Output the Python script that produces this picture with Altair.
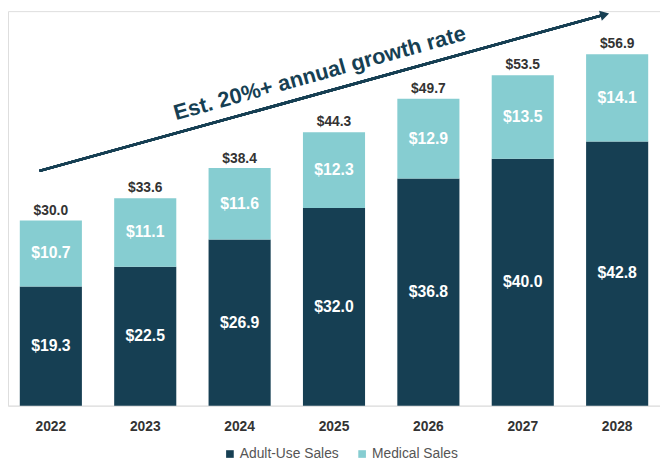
import altair as alt
import pandas as pd

years = ["2022", "2023", "2024", "2025", "2026", "2027", "2028"]
adult = [19.3, 22.5, 26.9, 32.0, 36.8, 40.0, 42.8]
medical = [10.7, 11.1, 11.6, 12.3, 12.9, 13.5, 14.1]
totals = [30.0, 33.6, 38.4, 44.3, 49.7, 53.5, 56.9]
series = ["Adult-Use Sales", "Medical Sales"]
annotation = "Est. 20%+ annual growth rate"

DARK = "#163f53"
LIGHT = "#86cdd1"
FONT = "Liberation Sans"

rows = []
for i, yr in enumerate(years):
    rows.append({"year": yr, "series": series[0], "value": adult[i], "order": 0,
                 "mid": adult[i] / 2, "label": f"${adult[i]:.1f}"})
    rows.append({"year": yr, "series": series[1], "value": medical[i], "order": 1,
                 "mid": adult[i] + medical[i] / 2, "label": f"${medical[i]:.1f}"})
df = pd.DataFrame(rows)
tot = pd.DataFrame({"year": years, "total": totals,
                    "label": [f"${t:.1f}" for t in totals]})

W, H = 661, 400
xscale = alt.Scale(paddingInner=0.342, paddingOuter=0.125)
yscale = alt.Scale(domain=[0, 63.9])
xenc = alt.X("year:N", sort=years, scale=xscale, title=None,
             axis=alt.Axis(labelAngle=0, labelFont=FONT, labelFontSize=14,
                           labelFontWeight="bold", labelColor="#333333",
                           labelPadding=14, ticks=False, domainColor="#e3e3e3",
                           domainWidth=1.5))

bars = alt.Chart(df).mark_bar().encode(
    x=xenc,
    y=alt.Y("value:Q", stack="zero", scale=yscale, axis=None),
    color=alt.Color("series:N", sort=series,
                    scale=alt.Scale(domain=series, range=[DARK, LIGHT]),
                    legend=alt.Legend(title=None, orient="none", legendX=218, legendY=442,
                                      direction="horizontal", symbolType="square",
                                      symbolSize=60, symbolStrokeWidth=0,
                                      labelFont=FONT, labelFontSize=14,
                                      labelColor="#555555", columnPadding=16,
                                      symbolOffset=0, labelOffset=3)),
    order=alt.Order("order:Q"),
)

seg_labels = alt.Chart(df).mark_text(color="white", font=FONT, fontSize=16,
                                     fontWeight="bold", baseline="middle").encode(
    x=alt.X("year:N", sort=years, scale=xscale),
    y=alt.Y("mid:Q", scale=yscale),
    text="label:N",
)

tot_labels = alt.Chart(tot).mark_text(color="#333333", font=FONT, fontSize=14,
                                      fontWeight="bold", baseline="bottom", dy=-3).encode(
    x=alt.X("year:N", sort=years, scale=xscale),
    y=alt.Y("total:Q", scale=yscale),
    text="label:N",
)

# growth arrow annotation (pixel positions in plot area)
AX0, AY0, AX1, AY1 = 32, 162, 603, 4
ANGLE = 344.5
arrow_line = alt.Chart(tot).mark_rule(color=DARK, strokeWidth=2.5).encode(
    x=alt.value(AX0), y=alt.value(AY0), x2=alt.value(AX1), y2=alt.value(AY1)
)
arrow_head = alt.Chart(tot).mark_point(shape="triangle-right", filled=True, color=DARK,
                                       size=110, angle=ANGLE, opacity=1).encode(
    x=alt.value(AX1 + 2), y=alt.value(AY1 - 0.5)
)
arrow_text = alt.Chart(tot).mark_text(text=annotation, font=FONT, fontSize=22,
                                      fontWeight="bold", fontStyle="normal", color=DARK,
                                      angle=ANGLE, align="center", baseline="middle").encode(
    x=alt.value(316), y=alt.value(63)
)

chart = alt.layer(bars, seg_labels, tot_labels, arrow_line,
                  arrow_head.transform_filter("datum.year == '2022'"),
                  arrow_text.transform_filter("datum.year == '2022'")).properties(
    width=W, height=H, autosize="none",
    padding={"left": 0, "top": 0, "right": 0, "bottom": 61},
).configure_view(stroke=None).configure(background="white")

chart.save("out.html", embed_options={"renderer": "svg", "actions": False})
